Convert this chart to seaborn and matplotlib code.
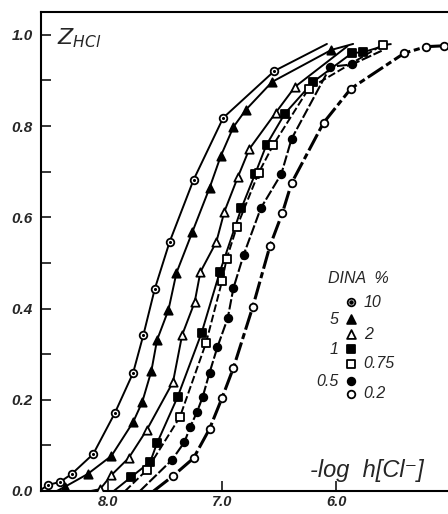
import matplotlib
matplotlib.use("Agg")
import matplotlib.pyplot as plt
import seaborn as sns
import pandas as pd
import numpy as np

# ---- data (x = -log h[Cl-], y = Z_HCl) ----
labels = ["10", "5", "2", "1", "0.75", "0.5", "0.2"]

x10 = [8.53, 8.42, 8.32, 8.13, 7.94, 7.78, 7.69, 7.59, 7.46, 7.25, 6.99, 6.54]
y10 = [0.013, 0.020, 0.037, 0.081, 0.171, 0.259, 0.342, 0.443, 0.546, 0.682, 0.818, 0.921]

x5 = [8.38, 8.18, 7.97, 7.78, 7.70, 7.62, 7.57, 7.47, 7.40, 7.26, 7.11, 7.01, 6.90, 6.79, 6.56, 6.04]
y5 = [0.009, 0.037, 0.077, 0.151, 0.195, 0.263, 0.331, 0.397, 0.478, 0.568, 0.664, 0.735, 0.798, 0.836, 0.897, 0.967]

x2 = [8.07, 7.97, 7.82, 7.66, 7.43, 7.35, 7.24, 7.19, 7.05, 6.98, 6.86, 6.76, 6.53, 6.36]
y2 = [0.004, 0.035, 0.072, 0.134, 0.239, 0.342, 0.414, 0.480, 0.546, 0.612, 0.689, 0.750, 0.829, 0.886]

x1 = [7.80, 7.63, 7.57, 7.39, 7.18, 7.02, 6.83, 6.71, 6.61, 6.45, 6.20, 5.86, 5.76]
y1 = [0.030, 0.064, 0.105, 0.206, 0.346, 0.480, 0.620, 0.695, 0.759, 0.827, 0.897, 0.960, 0.962]

x075 = [7.66, 7.37, 7.14, 7.00, 6.96, 6.87, 6.68, 6.55, 6.24, 5.59]
y075 = [0.046, 0.162, 0.325, 0.460, 0.509, 0.579, 0.697, 0.759, 0.882, 0.978]

x05 = [7.44, 7.33, 7.28, 7.22, 7.17, 7.11, 7.04, 6.95, 6.90, 6.81, 6.66, 6.48, 6.39, 6.05, 5.86]
y05 = [0.068, 0.107, 0.140, 0.173, 0.206, 0.259, 0.316, 0.379, 0.445, 0.518, 0.620, 0.695, 0.772, 0.930, 0.935]

x02 = [7.43, 7.25, 7.11, 7.00, 6.90, 6.73, 6.58, 6.47, 6.39, 6.11, 5.87, 5.40, 5.21, 5.05]
y02 = [0.033, 0.072, 0.136, 0.204, 0.270, 0.404, 0.537, 0.610, 0.675, 0.807, 0.882, 0.960, 0.974, 0.976]

# curve end points (where the fitted lines start / stop)
line_start = {"10": (8.58, 0.004), "5": (8.45, 0.0), "2": (8.15, 0.0), "1": (7.95, 0.0),
              "0.75": (7.85, 0.0), "0.5": (7.72, 0.0), "0.2": (7.60, 0.0)}
line_end = {"10": (6.08, 0.980), "5": (5.85, 0.980), "2": (5.90, 0.975), "1": (5.55, 0.978),
            "0.75": (5.50, 0.980), "0.5": (5.60, 0.965), "0.2": (5.03, 0.976)}

yticks = [0.0, 0.2, 0.4, 0.6, 0.8, 1.0]
xticks = [8.0, 7.0, 6.0]

series = {"10": (x10, y10), "5": (x5, y5), "2": (x2, y2), "1": (x1, y1),
          "0.75": (x075, y075), "0.5": (x05, y05), "0.2": (x02, y02)}

# ---- styles ----
mstyle = {
    "10": dict(marker="o", face="white", dot=True),
    "5": dict(marker="^", face="black", dot=False),
    "2": dict(marker="^", face="white", dot=False),
    "1": dict(marker="s", face="black", dot=False),
    "0.75": dict(marker="s", face="white", dot=False),
    "0.5": dict(marker="o", face="black", dot=False),
    "0.2": dict(marker="o", face="white", dot=False),
}
lstyle = {
    "10": dict(ls="-", lw=1.4),
    "5": dict(ls="-", lw=1.4),
    "2": dict(ls="-", lw=1.4),
    "1": dict(ls="-", lw=1.4),
    "0.75": dict(ls=(0, (4, 1.5)), lw=1.4),
    "0.5": dict(ls=(0, (5, 1.2)), lw=1.5),
    "0.2": dict(ls=(0, (6, 1.2, 2, 1.2)), lw=2.2),
}

sns.set_style("ticks")
plt.rcParams["font.family"] = ["Liberation Sans", "DejaVu Sans"]

fig = plt.figure(figsize=(4.48, 5.14), dpi=100)
ax = fig.add_axes([41 / 448, 1 - 491 / 514, (448 - 41) / 448, (491 - 12) / 514])

for lab in labels:
    xs, ys = series[lab]
    lx = [line_start[lab][0]] + list(xs) + [line_end[lab][0]]
    ly = [line_start[lab][1]] + list(ys) + [line_end[lab][1]]
    df = pd.DataFrame({"x": lx, "y": ly})
    sns.lineplot(data=df, x="x", y="y", sort=False, estimator=None, ax=ax,
                 color="black", linewidth=lstyle[lab]["lw"], linestyle=lstyle[lab]["ls"],
                 zorder=2)

for lab in labels:
    xs, ys = series[lab]
    st = mstyle[lab]
    dfm = pd.DataFrame({"x": xs, "y": ys})
    size = 36 if st["marker"] == "^" else 30
    sns.scatterplot(data=dfm, x="x", y="y", marker=st["marker"], s=size,
                    facecolor=st["face"], edgecolor="black", linewidth=1.3,
                    ax=ax, zorder=3)
    if st["dot"]:
        sns.scatterplot(data=dfm, x="x", y="y", marker="o", s=5, color="black",
                        linewidth=0, ax=ax, zorder=4)

# legend drawn as text + markers (data coordinates)
leg_x = 5.868
leg_y = {"10": 0.414, "5": 0.377, "2": 0.344, "1": 0.311, "0.75": 0.279, "0.5": 0.241, "0.2": 0.213}
leg_side = {"10": "right", "5": "left", "2": "right", "1": "left", "0.75": "right", "0.5": "left", "0.2": "right"}
for lab in labels:
    st = mstyle[lab]
    size = 40 if st["marker"] == "^" else 30
    ax.scatter([leg_x], [leg_y[lab]], marker=st["marker"], s=size, facecolor=st["face"],
               edgecolor="black", linewidth=1.3, zorder=5, clip_on=False)
    if st["dot"]:
        ax.scatter([leg_x], [leg_y[lab]], marker="o", s=5, color="black", zorder=6)
    if leg_side[lab] == "right":
        ax.text(leg_x - 0.11, leg_y[lab], lab, ha="left", va="center", fontsize=11.5,
                style="italic")
    else:
        ax.text(leg_x + 0.11, leg_y[lab], lab, ha="right", va="center", fontsize=11.5,
                style="italic")
ax.text(5.80, 0.465, "DINA  %", ha="center", va="center", fontsize=11.5, style="italic")

ax.text(0.04, 0.945, r"$\mathit{Z}_{\mathit{HCl}}$", transform=ax.transAxes,
        fontsize=16, ha="left", va="center")
ax.text(0.66, 0.043, "-log  h[Cl⁻]", transform=ax.transAxes, fontsize=17,
        style="italic", ha="left", va="center")

ax.set_xlim(8.588, 5.018)
ax.set_ylim(0.0, 1.05)
ax.set_xticks(xticks)
ax.set_xticklabels([f"{v:.1f}" for v in xticks])
ax.set_yticks(yticks)
ax.set_yticklabels([f"{v:.1f}" for v in yticks])
ax.set_yticks([0.1, 0.3, 0.5, 0.7, 0.9], minor=True)
ax.tick_params(axis="both", which="both", direction="in", length=7, width=1.3,
               labelsize=11)
ax.tick_params(axis="y", pad=6)
ax.tick_params(axis="x", pad=3, labelsize=10.5)
for t in ax.get_xticklabels() + ax.get_yticklabels():
    t.set_fontstyle("italic")
    t.set_fontweight("bold")
ax.set_xlabel("")
ax.set_ylabel("")
for side in ["left", "bottom", "top"]:
    ax.spines[side].set_linewidth(1.5)
    ax.spines[side].set_color("black")
ax.spines["right"].set_visible(False)

fig.savefig("out.png", dpi=100)
